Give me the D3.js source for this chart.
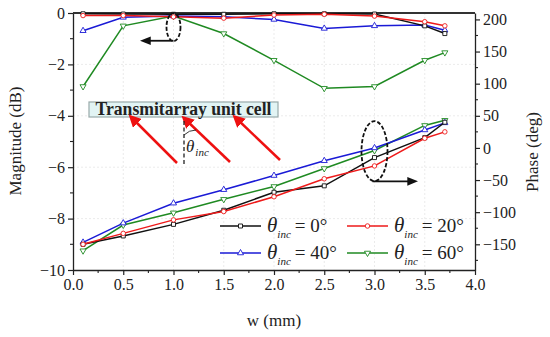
<!DOCTYPE html>
<meta charset="utf-8">
<script src="https://d3js.org/d3.v7.min.js"></script>
<style>
body { margin: 0; background: #fff; }
text { font-family: "Liberation Serif", "Times New Roman", serif; fill: #222; }
</style>
<div id="my_dataviz"></div>
<script>

// data
var widths = [0.1, 0.5, 1.0, 1.5, 2.0, 2.5, 3.0, 3.5, 3.7];
var series = ["0", "20", "40", "60"];

var mag0  = [-0.03, -0.04, -0.05, -0.05, -0.03, -0.03, -0.04, -0.5, -0.8];
var mag20 = [-0.1, -0.1, -0.15, -0.2, -0.08, -0.05, -0.12, -0.34, -0.5];
var mag40 = [-0.69, -0.17, -0.12, -0.15, -0.25, -0.6, -0.5, -0.47, -0.67];
var mag60 = [-2.86, -0.5, -0.12, -0.8, -1.84, -2.93, -2.86, -1.84, -1.54];

var ph0  = [-150, -137, -119, -97, -69, -59, -15, 16, 40];
var ph20 = [-150, -133, -112, -99, -76, -48, -28, 15, 25];
var ph40 = [-147, -117, -86, -65, -43, -20, 0, 28, 39];
var ph60 = [-160, -120, -101, -80, -60, -32, -4, 35, 43];

var xTicks = [0, 0.5, 1, 1.5, 2, 2.5, 3, 3.5, 4];
var magTicks = [0, -2, -4, -6, -8, -10];
var phTicks = [200, 150, 100, 50, 0, -50, -100, -150];

var colors = ["#111111", "#ee1a1a", "#1a1ad6", "#1f8a22"];
var shapes = [d3.symbolSquare, d3.symbolCircle, d3.symbolTriangle, d3.symbolTriangle];
var flips = [0, 0, 0, 180];

var margin = {top: 13, right: 75, bottom: 67, left: 73},
    width = 550 - margin.left - margin.right,
    height = 337 - margin.top - margin.bottom;

var svgRoot = d3.select("#my_dataviz")
  .append("svg")
    .attr("width", 550)
    .attr("height", 337);

var defs = svgRoot.append("defs");
defs.append("marker").attr("id", "redHead")
    .attr("viewBox", "0 0 10 10").attr("refX", 5).attr("refY", 5)
    .attr("markerWidth", 5).attr("markerHeight", 5).attr("orient", "auto")
  .append("path").attr("d", "M0,0 L10,5 L0,10 z").attr("fill", "#ee1111");
defs.append("marker").attr("id", "blackHead")
    .attr("viewBox", "0 0 10 10").attr("refX", 5).attr("refY", 5)
    .attr("markerWidth", 6).attr("markerHeight", 6).attr("orient", "auto")
  .append("path").attr("d", "M0,1 L10,5 L0,9 z").attr("fill", "#111");

var svg = svgRoot.append("g")
    .attr("transform", "translate(" + margin.left + "," + margin.top + ")");

var x = d3.scaleLinear().domain([0, 4]).range([0, width]);
var yMag = d3.scaleLinear().domain([-10, 0]).range([height, 0]);
var yPh = d3.scaleLinear().domain([-190, 210]).range([height, 0]);

// grid
svg.append("g").selectAll("line").data(xTicks.slice(1, -1)).enter().append("line")
  .attr("x1", d => x(d)).attr("x2", d => x(d)).attr("y1", 0).attr("y2", height)
  .attr("stroke", "#e6e6e6").attr("stroke-width", 0.8).attr("stroke-dasharray", "2,2");
svg.append("g").selectAll("line").data(magTicks.slice(1, -1)).enter().append("line")
  .attr("x1", 0).attr("x2", width).attr("y1", d => yMag(d)).attr("y2", d => yMag(d))
  .attr("stroke", "#e6e6e6").attr("stroke-width", 0.8).attr("stroke-dasharray", "2,2");

// axes
function styleAxis(g) {
  g.attr("font-family", null);
  g.select(".domain").attr("stroke", "#222").attr("stroke-width", 1.3);
  g.selectAll(".tick line").attr("stroke", "#222").attr("stroke-width", 1.2);
  g.selectAll("text").attr("font-size", 16).attr("fill", "#222");
}
function minor(g, ticks, scale, dir, len) {
  g.selectAll(".minor").data(ticks).enter().append("line")
    .attr("stroke", "#222").attr("stroke-width", 1.1)
    .each(function(d) {
      var s = d3.select(this);
      if (dir === "x") s.attr("x1", scale(d)).attr("x2", scale(d)).attr("y1", 0).attr("y2", len);
      else s.attr("y1", scale(d)).attr("y2", scale(d)).attr("x1", 0).attr("x2", len);
    });
}

var gx = svg.append("g").attr("transform", "translate(0," + height + ")")
  .call(d3.axisBottom(x).tickValues(xTicks).tickFormat(d3.format(".1f")).tickSize(5).tickSizeOuter(0).tickPadding(4));
styleAxis(gx);
minor(gx, d3.range(0.25, 4, 0.5), x, "x", 3);

var gy = svg.append("g")
  .call(d3.axisLeft(yMag).tickValues(magTicks).tickSize(5).tickSizeOuter(0).tickPadding(3));
styleAxis(gy);
minor(gy, d3.range(-9, 0, 2), yMag, "y", -3);

var gr = svg.append("g").attr("transform", "translate(" + width + ",0)")
  .call(d3.axisRight(yPh).tickValues(phTicks).tickSize(5).tickSizeOuter(0).tickPadding(3));
styleAxis(gr);
minor(gr, d3.range(-175, 210, 50), yPh, "y", 3);

// top frame
svg.append("line").attr("x1", 0).attr("x2", width).attr("y1", 0).attr("y2", 0)
  .attr("stroke", "#333").attr("stroke-width", 2.2);

// series
var magSets = [mag0, mag20, mag40, mag60];
var phSets = [ph0, ph20, ph40, ph60];

function drawSeries(vals, y, i) {
  var pts = widths.map((w, k) => [x(w), y(vals[k])]);
  svg.append("path").datum(pts)
    .attr("fill", "none").attr("stroke", colors[i]).attr("stroke-width", 1.5)
    .attr("d", d3.line());
  svg.append("g").selectAll("path").data(pts).enter().append("path")
    .attr("d", d3.symbol().type(shapes[i]).size(16))
    .attr("transform", d => "translate(" + d[0] + "," + d[1] + ") rotate(" + flips[i] + ")")
    .attr("fill", "#fff").attr("stroke", colors[i]).attr("stroke-width", 0.9);
}
[3, 2, 0, 1].forEach(i => drawSeries(magSets[i], yMag, i));
[3, 2, 0, 1].forEach(i => drawSeries(phSets[i], yPh, i));

// ellipses and arrows
svg.append("ellipse").attr("cx", x(1.0)).attr("cy", yMag(-0.55)).attr("rx", 7).attr("ry", 14)
  .attr("fill", "none").attr("stroke", "#111").attr("stroke-width", 1.8).attr("stroke-dasharray", "4,2");
svg.append("line").attr("x1", x(1.0)).attr("x2", x(0.72)).attr("y1", yMag(-1.08)).attr("y2", yMag(-1.08))
  .attr("stroke", "#111").attr("stroke-width", 1.8).attr("marker-end", "url(#blackHead)");

svg.append("ellipse").attr("cx", x(3.0)).attr("cy", yPh(-5)).attr("rx", 13).attr("ry", 30)
  .attr("fill", "none").attr("stroke", "#111").attr("stroke-width", 1.8).attr("stroke-dasharray", "4,2");
svg.append("line").attr("x1", x(2.98)).attr("x2", x(3.38)).attr("y1", yPh(-52)).attr("y2", yPh(-52))
  .attr("stroke", "#111").attr("stroke-width", 1.8).attr("marker-end", "url(#blackHead)");

// unit cell inset
var box = svg.append("g");
box.append("rect").attr("x", 16).attr("y", 89).attr("width", 189).attr("height", 15)
  .attr("fill", "#e2f4f4").attr("stroke", "#9aa").attr("stroke-width", 1.2);
box.append("text").attr("x", 110.5).attr("y", 102).attr("text-anchor", "middle")
  .attr("font-size", 18).attr("font-weight", "bold").attr("fill", "#333")
  .attr("textLength", 176).attr("lengthAdjust", "spacingAndGlyphs")
  .text("Transmitarray unit cell");

[[104, 150, 60, 106], [157, 149, 113, 107], [207, 147, 164, 106]].forEach(a => {
  box.append("line").attr("x1", a[0]).attr("y1", a[1]).attr("x2", a[2]).attr("y2", a[3])
    .attr("stroke", "#ee1111").attr("stroke-width", 2.5).attr("marker-end", "url(#redHead)");
});
box.append("line").attr("x1", 111).attr("x2", 111).attr("y1", 108).attr("y2", 153)
  .attr("stroke", "#222").attr("stroke-width", 1.3).attr("stroke-dasharray", "4,2.5");
box.append("path").attr("d", "M111,122 Q116,117 123,117")
  .attr("fill", "none").attr("stroke", "#222").attr("stroke-width", 0.9);
var th = box.append("text").attr("x", 113).attr("y", 139).attr("font-size", 17).attr("font-style", "italic");
th.append("tspan").text("θ");
th.append("tspan").attr("font-size", 11).attr("dy", 4).attr("dx", 1).text("inc");

// legend
var legPos = [[147, 213], [274, 213], [147, 240], [274, 240]];
series.forEach((s, i) => {
  var g = svg.append("g").attr("transform", "translate(" + legPos[i][0] + "," + legPos[i][1] + ")");
  g.append("line").attr("x1", 0).attr("x2", 41).attr("y1", 0).attr("y2", 0)
    .attr("stroke", colors[i]).attr("stroke-width", 1.5);
  g.append("path").attr("d", d3.symbol().type(shapes[i]).size(16))
    .attr("transform", "translate(20.5,0) rotate(" + flips[i] + ")")
    .attr("fill", "#fff").attr("stroke", colors[i]).attr("stroke-width", 0.9);
  var t = g.append("text").attr("x", 47).attr("y", 6).attr("font-size", 19);
  t.append("tspan").attr("font-style", "italic").attr("font-size", 21).text("θ");
  t.append("tspan").attr("font-style", "italic").attr("font-size", 11).attr("dy", 6).text("inc");
  t.append("tspan").attr("dy", -6).attr("dx", 4).text("= " + s + "°");
});

// axis titles
svgRoot.append("text").attr("transform", "translate(21,141) rotate(-90)")
  .attr("text-anchor", "middle").attr("font-size", 17).text("Magnitude (dB)");
svgRoot.append("text").attr("transform", "translate(538,152) rotate(-90)")
  .attr("text-anchor", "middle").attr("font-size", 17).text("Phase (deg)");
svgRoot.append("text").attr("x", 274).attr("y", 326)
  .attr("text-anchor", "middle").attr("font-size", 17).text("w (mm)");

</script>
